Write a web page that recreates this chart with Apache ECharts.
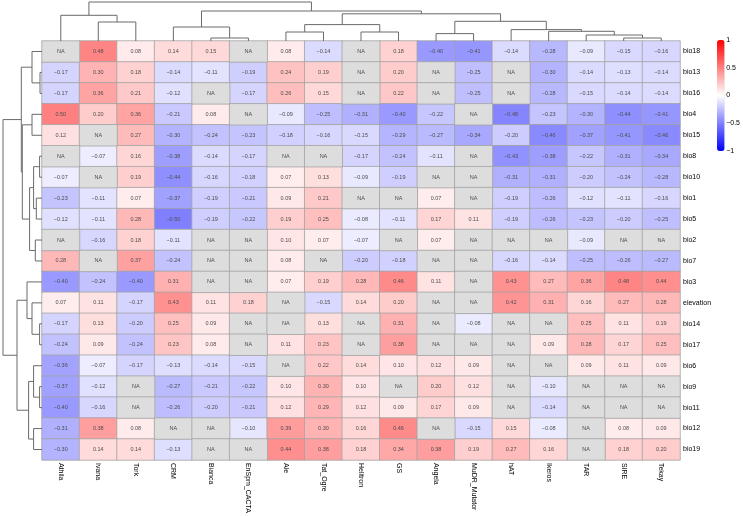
<!DOCTYPE html>
<html>
<head>
<meta charset="utf-8">
<script src="https://cdn.jsdelivr.net/npm/echarts@6/dist/echarts.min.js"></script>
<style>
  html, body { margin: 0; padding: 0; background: #fff; }
  #chart { width: 743px; height: 516px; }
</style>
</head>
<body>
<div id="chart"></div>
<script>
// columns (TE families) and rows (climate variables), in dendrogram order
const colNames = ['Athila', 'Ivana', 'Tork', 'CRM', 'Bianca', 'EnSpm_CACTA', 'Ale', 'Tat_Ogre', 'Helitron', 'GS',
  'Angela', 'MuDR_Mutator', 'hAT', 'Ikeros', 'TAR', 'SIRE', 'Tekay'];
const rowNames = ['bio18', 'bio13', 'bio16', 'bio4', 'bio15', 'bio8', 'bio10', 'bio1', 'bio5', 'bio2',
  'bio7', 'bio3', 'elevation', 'bio14', 'bio17', 'bio6', 'bio9', 'bio11', 'bio12', 'bio19'];

const NA = null;
const bio18 = [NA, 0.48, 0.08, 0.14, 0.15, NA, 0.08, -0.14, NA, 0.18, -0.40, -0.41, -0.14, -0.28, -0.09, -0.15, -0.16];
const bio13 = [-0.17, 0.30, 0.18, -0.14, -0.11, -0.19, 0.24, 0.19, NA, 0.20, NA, -0.25, NA, -0.30, -0.14, -0.13, -0.14];
const bio16 = [-0.17, 0.36, 0.21, -0.12, NA, -0.17, 0.26, 0.15, NA, 0.22, NA, -0.25, NA, -0.28, -0.15, -0.14, -0.14];
const bio4 = [0.50, 0.20, 0.36, -0.21, 0.08, NA, -0.09, -0.25, -0.31, -0.40, -0.22, NA, -0.48, -0.23, -0.30, -0.44, -0.41];
const bio15 = [0.12, NA, 0.27, -0.30, -0.24, -0.23, -0.18, -0.16, -0.15, -0.29, -0.27, -0.34, -0.20, -0.46, -0.37, -0.41, -0.46];
const bio8 = [NA, -0.07, 0.16, -0.38, -0.14, -0.17, NA, NA, -0.17, -0.24, -0.11, NA, -0.43, -0.38, -0.22, -0.31, -0.34];
const bio10 = [-0.07, NA, 0.19, -0.44, -0.16, -0.18, 0.07, 0.13, -0.09, -0.19, NA, NA, -0.31, -0.31, -0.20, -0.24, -0.28];
const bio1 = [-0.23, -0.11, 0.07, -0.37, -0.19, -0.21, 0.09, 0.21, NA, NA, 0.07, NA, -0.19, -0.26, -0.12, -0.11, -0.16];
const bio5 = [-0.12, -0.11, 0.28, -0.50, -0.19, -0.22, 0.19, 0.25, -0.08, -0.11, 0.17, 0.11, -0.19, -0.26, -0.23, -0.20, -0.25];
const bio2 = [NA, -0.16, 0.18, -0.11, NA, NA, 0.10, 0.07, -0.07, NA, 0.07, NA, NA, NA, -0.09, NA, NA];
const bio7 = [0.28, NA, 0.37, -0.24, NA, NA, 0.08, NA, -0.20, -0.18, NA, NA, -0.16, -0.14, -0.25, -0.26, -0.27];
const bio3 = [-0.40, -0.24, -0.40, 0.31, NA, NA, 0.07, 0.19, 0.28, 0.46, 0.11, NA, 0.43, 0.27, 0.36, 0.48, 0.44];
const elevation = [0.07, 0.11, -0.17, 0.43, 0.11, 0.18, NA, -0.15, 0.14, 0.20, NA, NA, 0.42, 0.31, 0.16, 0.27, 0.28];
const bio14 = [-0.17, 0.13, -0.20, 0.25, 0.09, NA, NA, 0.13, NA, 0.31, NA, -0.08, NA, NA, 0.25, 0.11, 0.19];
const bio17 = [-0.24, 0.09, -0.24, 0.23, 0.08, NA, 0.11, 0.23, NA, 0.38, NA, NA, NA, 0.09, 0.28, 0.17, 0.25];
const bio6 = [-0.36, -0.07, -0.17, -0.13, -0.14, -0.15, NA, 0.22, 0.14, 0.10, 0.12, 0.09, NA, NA, 0.09, 0.11, 0.09];
const bio9 = [-0.37, -0.12, NA, -0.27, -0.21, -0.22, 0.10, 0.30, 0.10, NA, 0.20, 0.12, NA, -0.10, NA, NA, NA];
const bio11 = [-0.40, -0.16, NA, -0.26, -0.20, -0.21, 0.12, 0.29, 0.12, 0.09, 0.17, 0.09, NA, -0.14, NA, NA, NA];
const bio12 = [-0.31, 0.38, 0.08, NA, NA, -0.10, 0.39, 0.30, 0.16, 0.46, NA, -0.15, 0.15, -0.08, NA, 0.08, 0.09];
const bio19 = [-0.30, 0.14, 0.14, -0.13, NA, NA, 0.44, 0.38, 0.18, 0.34, 0.38, 0.19, 0.27, 0.16, NA, 0.18, 0.20];

const rows = [bio18, bio13, bio16, bio4, bio15, bio8, bio10, bio1, bio5, bio2,
  bio7, bio3, elevation, bio14, bio17, bio6, bio9, bio11, bio12, bio19];

// hclust-style merges: negative = leaf (1-based, display order), positive = earlier merge; third = height
const colMerge = [
  [-5, -6, 3], [-16, -17, 3], [-15, 2, 6], [-11, -12, 7.4], [-7, -8, 9], [-9, -10, 9],
  [-14, 3, 9.7], [-13, 7, 11.4], [-4, 1, 14], [5, 6, 16.4], [-2, -3, 19], [4, 8, 19.7],
  [-1, 11, 25.7], [10, 12, 27.2], [9, 14, 30], [13, 15, 39]
];
const rowMerge = [
  [-2, -3, 2], [-6, -7, 2.4], [-14, -15, 2.4], [-17, -18, 2.4], [-8, -9, 5.7], [-10, -11, 6.7],
  [2, 5, 8.4], [-16, 4, 8.4], [-19, -20, 8.4], [-1, 1, 10], [-4, -5, 10], [-13, 3, 10],
  [7, 6, 12.4], [8, 9, 13.4], [-12, 12, 15], [11, 13, 19.7], [10, 16, 20.7], [15, 14, 25], [17, 18, 39]
];

const colorTicks = [-1, -0.5, 0, 0.5, 1];

const fmt = v => (v < 0 ? '\u2212' : '') + Math.abs(v).toFixed(2);

const cells = [], naCells = [];
rows.forEach((r, j) => r.forEach((v, i) => {
  if (v === null) naCells.push([i, j, 0]);
  else cells.push([i, j, v]);
}));

function dendro(merges, axisIdx, sideways) {
  const pos = [], hgt = [];
  const items = merges.map(([a, b, h], k) => {
    const pa = a < 0 ? -a - 0.5 : pos[a - 1];
    const ha = a < 0 ? 0 : hgt[a - 1];
    const pb = b < 0 ? -b - 0.5 : pos[b - 1];
    const hb = b < 0 ? 0 : hgt[b - 1];
    pos[k] = (pa + pb) / 2;
    hgt[k] = h;
    return [pa, ha, pb, hb, h];
  });
  return {
    type: 'custom',
    xAxisIndex: axisIdx,
    yAxisIndex: axisIdx,
    silent: true,
    clip: false,
    data: items,
    renderItem(params, api) {
      const pt = (p, h) => api.coord(sideways ? [h, p] : [p, h]);
      const p0 = api.value(0), h0 = api.value(1), p1 = api.value(2), h1 = api.value(3), h = api.value(4);
      return {
        type: 'polyline',
        shape: { points: [pt(p0, h0), pt(p0, h), pt(p1, h), pt(p1, h1)] },
        style: { fill: null, stroke: '#6a6a6a', lineWidth: 1 }
      };
    }
  };
}

const chart = echarts.init(document.getElementById('chart'));
const font = 'Liberation Sans, Arial, sans-serif';
const hidden = { show: false };

chart.setOption({
  animation: false,
  backgroundColor: '#fff',
  textStyle: { fontFamily: font },
  grid: [
    { left: 42, top: 41, width: 638, height: 419 },
    { left: 42, top: 0, width: 638, height: 41 },
    { left: 0, top: 41, width: 42, height: 419 },
    { left: 717, top: 40.3, width: 7.6, height: 110.4 }
  ],
  xAxis: [
    {
      type: 'category', gridIndex: 0, data: colNames, position: 'bottom',
      axisLine: hidden, axisTick: hidden, splitLine: hidden,
      axisLabel: { rotate: -90, fontSize: 7, color: '#000', margin: 3, interval: 0 }
    },
    { type: 'value', gridIndex: 1, min: 0, max: 17, show: false },
    { type: 'value', gridIndex: 2, min: 0, max: 42, inverse: true, show: false },
    { type: 'value', gridIndex: 3, min: 0, max: 1, show: false }
  ],
  yAxis: [
    {
      type: 'category', gridIndex: 0, data: rowNames, inverse: true, position: 'right',
      axisLine: hidden, axisTick: hidden, splitLine: hidden,
      axisLabel: { fontSize: 7, color: '#000', margin: 3, interval: 0 }
    },
    { type: 'value', gridIndex: 1, min: 0, max: 41, show: false },
    { type: 'value', gridIndex: 2, min: 0, max: 20, inverse: true, show: false },
    {
      type: 'value', gridIndex: 3, min: colorTicks[0], max: colorTicks[colorTicks.length - 1], interval: 0.5,
      position: 'right', axisLine: hidden, axisTick: hidden, splitLine: hidden,
      axisLabel: { fontSize: 7, color: '#000', margin: 3, formatter: v => (v < 0 ? '\u2212' : '') + Math.abs(v) }
    }
  ],
  visualMap: {
    type: 'continuous',
    seriesIndex: 0,
    min: -1,
    max: 1,
    calculable: false,
    orient: 'vertical',
    left: 717,
    top: 40,
    padding: 0,
    itemWidth: 7.6,
    itemHeight: 111,
    inRange: { color: ['#0000FF', '#FFFFFF', '#FF0000'] }
  },
  series: [
    {
      type: 'heatmap',
      xAxisIndex: 0,
      yAxisIndex: 0,
      data: cells,
      itemStyle: { borderColor: '#a3a3a3', borderWidth: 0.8 },
      label: { show: true, fontSize: 5.5, color: '#4d4d4d', formatter: p => fmt(p.value[2]) },
      emphasis: { disabled: true }
    },
    {
      type: 'heatmap',
      xAxisIndex: 0,
      yAxisIndex: 0,
      data: naCells,
      itemStyle: { color: '#dddddd', borderColor: '#a3a3a3', borderWidth: 0.8 },
      label: { show: true, fontSize: 5.5, color: '#4d4d4d', formatter: 'NA' },
      emphasis: { disabled: true }
    },
    dendro(colMerge, 1, false),
    dendro(rowMerge, 2, true)
  ]
});
</script>
</body>
</html>
